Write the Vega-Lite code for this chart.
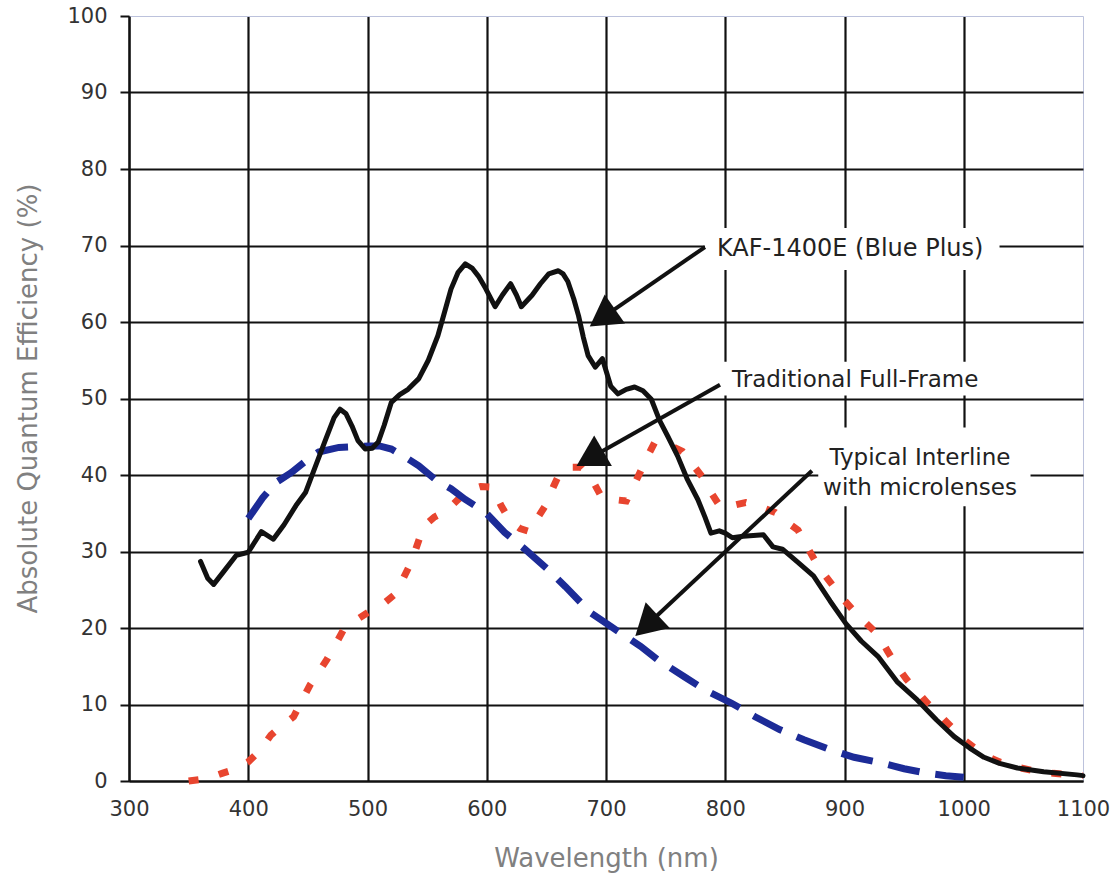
{
  "$schema": "https://vega.github.io/schema/vega-lite/v6.json",
  "width": 954,
  "height": 765,
  "autosize": {"type": "none"},
  "padding": {"left": 129, "top": 16, "right": 36, "bottom": 100},
  "background": "white",
  "config": {
    "view": {"stroke": null},
    "font": "DejaVu Sans",
    "axis": {
      "labelFont": "DejaVu Sans",
      "titleFont": "DejaVu Sans",
      "labelFontSize": 21,
      "labelColor": "#333333",
      "titleColor": "#808080",
      "titleFontSize": 26,
      "titleFontWeight": "normal",
      "domainColor": "#111111",
      "domainWidth": 2,
      "gridOpacity": 1
    }
  },
  "datasets": {
    "curves": [
      {"series": "KAF", "wl": 360, "qe": 28.7}, {"series": "KAF", "wl": 366, "qe": 26.5}, {"series": "KAF", "wl": 371, "qe": 25.7},
      {"series": "KAF", "wl": 380, "qe": 27.5}, {"series": "KAF", "wl": 390, "qe": 29.5}, {"series": "KAF", "wl": 400, "qe": 29.9},
      {"series": "KAF", "wl": 411, "qe": 32.6}, {"series": "KAF", "wl": 421, "qe": 31.6}, {"series": "KAF", "wl": 430, "qe": 33.5},
      {"series": "KAF", "wl": 440, "qe": 36}, {"series": "KAF", "wl": 448, "qe": 37.7}, {"series": "KAF", "wl": 456, "qe": 41},
      {"series": "KAF", "wl": 465, "qe": 44.7}, {"series": "KAF", "wl": 472, "qe": 47.5}, {"series": "KAF", "wl": 477, "qe": 48.6},
      {"series": "KAF", "wl": 482, "qe": 48}, {"series": "KAF", "wl": 487, "qe": 46.4}, {"series": "KAF", "wl": 492, "qe": 44.5},
      {"series": "KAF", "wl": 498, "qe": 43.4}, {"series": "KAF", "wl": 504, "qe": 43.5}, {"series": "KAF", "wl": 509, "qe": 44.3},
      {"series": "KAF", "wl": 514, "qe": 46.5}, {"series": "KAF", "wl": 520, "qe": 49.5}, {"series": "KAF", "wl": 527, "qe": 50.5},
      {"series": "KAF", "wl": 534, "qe": 51.2}, {"series": "KAF", "wl": 543, "qe": 52.6}, {"series": "KAF", "wl": 551, "qe": 55},
      {"series": "KAF", "wl": 559, "qe": 58.2}, {"series": "KAF", "wl": 565, "qe": 61.5}, {"series": "KAF", "wl": 570, "qe": 64.3},
      {"series": "KAF", "wl": 576, "qe": 66.5}, {"series": "KAF", "wl": 582, "qe": 67.6}, {"series": "KAF", "wl": 588, "qe": 67},
      {"series": "KAF", "wl": 593, "qe": 66}, {"series": "KAF", "wl": 599, "qe": 64.4}, {"series": "KAF", "wl": 607, "qe": 62},
      {"series": "KAF", "wl": 613, "qe": 63.5}, {"series": "KAF", "wl": 620, "qe": 65}, {"series": "KAF", "wl": 625, "qe": 63.5},
      {"series": "KAF", "wl": 629, "qe": 62}, {"series": "KAF", "wl": 638, "qe": 63.5}, {"series": "KAF", "wl": 645, "qe": 65},
      {"series": "KAF", "wl": 652, "qe": 66.3}, {"series": "KAF", "wl": 660, "qe": 66.7}, {"series": "KAF", "wl": 664, "qe": 66.3},
      {"series": "KAF", "wl": 668, "qe": 65.3}, {"series": "KAF", "wl": 673, "qe": 63}, {"series": "KAF", "wl": 677, "qe": 60.8},
      {"series": "KAF", "wl": 681, "qe": 58}, {"series": "KAF", "wl": 685, "qe": 55.6}, {"series": "KAF", "wl": 691, "qe": 54.1},
      {"series": "KAF", "wl": 697, "qe": 55.2}, {"series": "KAF", "wl": 704, "qe": 51.6}, {"series": "KAF", "wl": 710, "qe": 50.6},
      {"series": "KAF", "wl": 717, "qe": 51.2}, {"series": "KAF", "wl": 724, "qe": 51.5}, {"series": "KAF", "wl": 731, "qe": 51},
      {"series": "KAF", "wl": 738, "qe": 49.9}, {"series": "KAF", "wl": 745, "qe": 47.1}, {"series": "KAF", "wl": 752, "qe": 45},
      {"series": "KAF", "wl": 760, "qe": 42.5}, {"series": "KAF", "wl": 768, "qe": 39.5}, {"series": "KAF", "wl": 777, "qe": 36.8},
      {"series": "KAF", "wl": 783, "qe": 34.5}, {"series": "KAF", "wl": 788, "qe": 32.4}, {"series": "KAF", "wl": 795, "qe": 32.7},
      {"series": "KAF", "wl": 800, "qe": 32.4}, {"series": "KAF", "wl": 806, "qe": 31.8}, {"series": "KAF", "wl": 815, "qe": 32},
      {"series": "KAF", "wl": 832, "qe": 32.2}, {"series": "KAF", "wl": 840, "qe": 30.6}, {"series": "KAF", "wl": 848, "qe": 30.3},
      {"series": "KAF", "wl": 860, "qe": 28.7}, {"series": "KAF", "wl": 874, "qe": 26.8}, {"series": "KAF", "wl": 888, "qe": 23.5},
      {"series": "KAF", "wl": 901, "qe": 20.6}, {"series": "KAF", "wl": 914, "qe": 18.3}, {"series": "KAF", "wl": 928, "qe": 16.3},
      {"series": "KAF", "wl": 944, "qe": 13}, {"series": "KAF", "wl": 961, "qe": 10.6}, {"series": "KAF", "wl": 977, "qe": 8},
      {"series": "KAF", "wl": 992, "qe": 5.8}, {"series": "KAF", "wl": 1005, "qe": 4.3}, {"series": "KAF", "wl": 1017, "qe": 3.1},
      {"series": "KAF", "wl": 1030, "qe": 2.3}, {"series": "KAF", "wl": 1045, "qe": 1.7}, {"series": "KAF", "wl": 1067, "qe": 1.2},
      {"series": "KAF", "wl": 1095, "qe": 0.8}, {"series": "KAF", "wl": 1100, "qe": 0.7},

      {"series": "Interline", "wl": 400, "qe": 34.3}, {"series": "Interline", "wl": 412, "qe": 37}, {"series": "Interline", "wl": 423, "qe": 39},
      {"series": "Interline", "wl": 436, "qe": 40.3}, {"series": "Interline", "wl": 448, "qe": 41.8}, {"series": "Interline", "wl": 459, "qe": 43},
      {"series": "Interline", "wl": 476, "qe": 43.6}, {"series": "Interline", "wl": 490, "qe": 43.7}, {"series": "Interline", "wl": 501, "qe": 43.8},
      {"series": "Interline", "wl": 510, "qe": 43.8}, {"series": "Interline", "wl": 520, "qe": 43.4}, {"series": "Interline", "wl": 532, "qe": 42.3},
      {"series": "Interline", "wl": 543, "qe": 41.2}, {"series": "Interline", "wl": 557, "qe": 39.4}, {"series": "Interline", "wl": 570, "qe": 38.2},
      {"series": "Interline", "wl": 582, "qe": 36.8}, {"series": "Interline", "wl": 599, "qe": 35.1}, {"series": "Interline", "wl": 615, "qe": 32.5},
      {"series": "Interline", "wl": 632, "qe": 30.3}, {"series": "Interline", "wl": 651, "qe": 27.7}, {"series": "Interline", "wl": 666, "qe": 25.4},
      {"series": "Interline", "wl": 687, "qe": 22}, {"series": "Interline", "wl": 704, "qe": 20.2}, {"series": "Interline", "wl": 729, "qe": 17.6},
      {"series": "Interline", "wl": 743, "qe": 15.9}, {"series": "Interline", "wl": 766, "qe": 13.6}, {"series": "Interline", "wl": 783, "qe": 11.9},
      {"series": "Interline", "wl": 805, "qe": 10.2}, {"series": "Interline", "wl": 825, "qe": 8.4}, {"series": "Interline", "wl": 846, "qe": 6.7},
      {"series": "Interline", "wl": 866, "qe": 5.4}, {"series": "Interline", "wl": 888, "qe": 4.1}, {"series": "Interline", "wl": 908, "qe": 3.1},
      {"series": "Interline", "wl": 930, "qe": 2.4}, {"series": "Interline", "wl": 950, "qe": 1.6}, {"series": "Interline", "wl": 970, "qe": 1.0},
      {"series": "Interline", "wl": 985, "qe": 0.7}, {"series": "Interline", "wl": 1000, "qe": 0.5},

      {"series": "FullFrame", "wl": 350, "qe": 0}, {"series": "FullFrame", "wl": 365, "qe": 0.3}, {"series": "FullFrame", "wl": 378, "qe": 1},
      {"series": "FullFrame", "wl": 390, "qe": 1.6}, {"series": "FullFrame", "wl": 400, "qe": 2.5}, {"series": "FullFrame", "wl": 410, "qe": 4},
      {"series": "FullFrame", "wl": 419, "qe": 6}, {"series": "FullFrame", "wl": 428, "qe": 7.2}, {"series": "FullFrame", "wl": 438, "qe": 8.4},
      {"series": "FullFrame", "wl": 445, "qe": 10.5}, {"series": "FullFrame", "wl": 452, "qe": 12.6}, {"series": "FullFrame", "wl": 459, "qe": 14.2},
      {"series": "FullFrame", "wl": 466, "qe": 15.9}, {"series": "FullFrame", "wl": 473, "qe": 17.8}, {"series": "FullFrame", "wl": 480, "qe": 19.8},
      {"series": "FullFrame", "wl": 490, "qe": 21}, {"series": "FullFrame", "wl": 501, "qe": 22.1}, {"series": "FullFrame", "wl": 512, "qe": 23},
      {"series": "FullFrame", "wl": 523, "qe": 24.4}, {"series": "FullFrame", "wl": 530, "qe": 26.5}, {"series": "FullFrame", "wl": 537, "qe": 28.7},
      {"series": "FullFrame", "wl": 542, "qe": 31}, {"series": "FullFrame", "wl": 547, "qe": 33.3}, {"series": "FullFrame", "wl": 556, "qe": 34.5},
      {"series": "FullFrame", "wl": 566, "qe": 35.3}, {"series": "FullFrame", "wl": 576, "qe": 36.8}, {"series": "FullFrame", "wl": 586, "qe": 38.1},
      {"series": "FullFrame", "wl": 595, "qe": 38.5}, {"series": "FullFrame", "wl": 605, "qe": 38.4}, {"series": "FullFrame", "wl": 612, "qe": 36},
      {"series": "FullFrame", "wl": 620, "qe": 33.9}, {"series": "FullFrame", "wl": 628, "qe": 33}, {"series": "FullFrame", "wl": 636, "qe": 32.6},
      {"series": "FullFrame", "wl": 643, "qe": 34.5}, {"series": "FullFrame", "wl": 650, "qe": 36.2}, {"series": "FullFrame", "wl": 656, "qe": 38.5},
      {"series": "FullFrame", "wl": 662, "qe": 40.5}, {"series": "FullFrame", "wl": 670, "qe": 41}, {"series": "FullFrame", "wl": 679, "qe": 41},
      {"series": "FullFrame", "wl": 688, "qe": 39.5}, {"series": "FullFrame", "wl": 696, "qe": 37.2}, {"series": "FullFrame", "wl": 706, "qe": 36.8},
      {"series": "FullFrame", "wl": 717, "qe": 36.6}, {"series": "FullFrame", "wl": 723, "qe": 38.5}, {"series": "FullFrame", "wl": 729, "qe": 40.5},
      {"series": "FullFrame", "wl": 735, "qe": 42.5}, {"series": "FullFrame", "wl": 741, "qe": 44.3}, {"series": "FullFrame", "wl": 752, "qe": 44},
      {"series": "FullFrame", "wl": 764, "qe": 43.1}, {"series": "FullFrame", "wl": 772, "qe": 41.5}, {"series": "FullFrame", "wl": 781, "qe": 39.7},
      {"series": "FullFrame", "wl": 789, "qe": 37.5}, {"series": "FullFrame", "wl": 796, "qe": 35.8}, {"series": "FullFrame", "wl": 806, "qe": 36},
      {"series": "FullFrame", "wl": 817, "qe": 36.4}, {"series": "FullFrame", "wl": 830, "qe": 35.8}, {"series": "FullFrame", "wl": 842, "qe": 35.1},
      {"series": "FullFrame", "wl": 852, "qe": 33.8}, {"series": "FullFrame", "wl": 861, "qe": 32.8}, {"series": "FullFrame", "wl": 868, "qe": 30.8},
      {"series": "FullFrame", "wl": 876, "qe": 28.6}, {"series": "FullFrame", "wl": 884, "qe": 26.8}, {"series": "FullFrame", "wl": 892, "qe": 25.2},
      {"series": "FullFrame", "wl": 900, "qe": 23.6}, {"series": "FullFrame", "wl": 909, "qe": 22}, {"series": "FullFrame", "wl": 919, "qe": 20.5},
      {"series": "FullFrame", "wl": 929, "qe": 19}, {"series": "FullFrame", "wl": 936, "qe": 17}, {"series": "FullFrame", "wl": 944, "qe": 15},
      {"series": "FullFrame", "wl": 952, "qe": 13.3}, {"series": "FullFrame", "wl": 961, "qe": 11.7}, {"series": "FullFrame", "wl": 970, "qe": 10.1},
      {"series": "FullFrame", "wl": 980, "qe": 8.6}, {"series": "FullFrame", "wl": 990, "qe": 7}, {"series": "FullFrame", "wl": 1000, "qe": 5.4},
      {"series": "FullFrame", "wl": 1010, "qe": 4.2}, {"series": "FullFrame", "wl": 1020, "qe": 3.2}, {"series": "FullFrame", "wl": 1030, "qe": 2.5},
      {"series": "FullFrame", "wl": 1045, "qe": 1.8}, {"series": "FullFrame", "wl": 1060, "qe": 1.3}, {"series": "FullFrame", "wl": 1075, "qe": 1},
      {"series": "FullFrame", "wl": 1090, "qe": 0.8}, {"series": "FullFrame", "wl": 1100, "qe": 0.7}
    ],
    "boxes": [
      {"wl": 783, "wl2": 1030, "qe": 72.3, "qe2": 66.8},
      {"wl": 797, "wl2": 1024, "qe": 54.8, "qe2": 50.4},
      {"wl": 878, "wl2": 1056, "qe": 46.2, "qe2": 35.9}
    ],
    "arrows": [
      {"id": "KAF", "wl": 783.0, "qe": 69.8, "wl2": 700.4, "qe2": 60.94},
      {"id": "FullFrame", "wl": 795.6, "qe": 51.8, "wl2": 690.1, "qe2": 42.51},
      {"id": "Interline", "wl": 872.7, "qe": 40.56, "wl2": 737.1, "qe2": 20.78}
    ],
    "labels": [
      {"id": "KAF", "wl": 793.1, "qe": 68.65, "text": "KAF-1400E (Blue Plus)"},
      {"id": "FullFrame", "wl": 805.7, "qe": 51.55, "text": "Traditional Full-Frame"},
      {"id": "Interline", "wl": 963.3, "qe": 41.35, "text": "Typical Interline"},
      {"id": "Interline", "wl": 963.3, "qe": 37.4, "text": "with microlenses"}
    ]
  },
  "layer": [
    {
      "data": {"name": "boxes"},
      "mark": {"type": "rect", "fill": "white", "stroke": null},
      "encoding": {
        "x": {"field": "wl", "type": "quantitative", "scale": {"domain": [300, 1100], "nice": false, "zero": false},
          "axis": {"values": [300, 400, 500, 600, 700, 800, 900, 1000, 1100], "format": "d", "title": "Wavelength (nm)", "grid": true,
            "gridColor": {"condition": {"test": "datum.value == 1100", "value": "#bcc2dc"}, "value": "#111111"},
            "gridWidth": {"condition": {"test": "datum.value == 1100", "value": 1}, "value": 2.2},
            "ticks": false, "tickSize": 0, "labelPadding": 17, "labelFlush": false,
            "titleX": 477, "titleY": 77, "titleBaseline": "middle", "titleAlign": "center"}},
        "x2": {"field": "wl2"},
        "y": {"field": "qe", "type": "quantitative", "scale": {"domain": [0, 100], "nice": false},
          "axis": {"values": [0, 10, 20, 30, 40, 50, 60, 70, 80, 90, 100], "title": "Absolute Quantum Efficiency (%)", "grid": true,
            "gridColor": {"condition": {"test": "datum.value == 100", "value": "#bcc2dc"}, "value": "#111111"},
            "gridWidth": {"condition": {"test": "datum.value == 100", "value": 1}, "value": 2.2},
            "ticks": true, "tickSize": 9, "tickColor": "#111111", "tickWidth": 2, "labelPadding": 13, "labelFlush": false,
            "titleX": -101, "titleY": 382, "titleAngle": -90, "titleBaseline": "middle", "titleAlign": "center"}},
        "y2": {"field": "qe2"}
      }
    },
    {
      "data": {"name": "curves"},
      "transform": [{"filter": "datum.series == 'FullFrame'"}],
      "mark": {"type": "line", "color": "#e8452f", "strokeWidth": 7, "strokeDash": [10, 21], "strokeCap": "butt"},
      "encoding": {
        "x": {"field": "wl", "type": "quantitative"},
        "y": {"field": "qe", "type": "quantitative"}
      }
    },
    {
      "data": {"name": "curves"},
      "transform": [{"filter": "datum.series == 'Interline'"}],
      "mark": {"type": "line", "color": "#1c2b97", "strokeWidth": 7, "strokeDash": [32, 16], "strokeCap": "butt"},
      "encoding": {
        "x": {"field": "wl", "type": "quantitative"},
        "y": {"field": "qe", "type": "quantitative"}
      }
    },
    {
      "data": {"name": "curves"},
      "transform": [{"filter": "datum.series == 'KAF'"}],
      "mark": {"type": "line", "color": "#111111", "strokeWidth": 5, "strokeJoin": "round", "strokeCap": "round"},
      "encoding": {
        "x": {"field": "wl", "type": "quantitative"},
        "y": {"field": "qe", "type": "quantitative"}
      }
    },
    {
      "data": {"name": "arrows"},
      "mark": {"type": "rule", "color": "#111111", "strokeWidth": 4},
      "encoding": {
        "x": {"field": "wl", "type": "quantitative"},
        "y": {"field": "qe", "type": "quantitative"},
        "x2": {"field": "wl2"},
        "y2": {"field": "qe2"}
      }
    },
    {
      "data": {"name": "arrows"},
      "transform": [{"filter": "datum.id == 'KAF'"}],
      "mark": {"type": "point", "shape": "triangle", "filled": true, "color": "#111111", "opacity": 1, "size": 1250, "angle": 235},
      "encoding": {
        "x": {"field": "wl2", "type": "quantitative"},
        "y": {"field": "qe2", "type": "quantitative"}
      }
    },
    {
      "data": {"name": "arrows"},
      "transform": [{"filter": "datum.id == 'FullFrame'"}],
      "mark": {"type": "point", "shape": "triangle", "filled": true, "color": "#111111", "opacity": 1, "size": 1250, "angle": 240},
      "encoding": {
        "x": {"field": "wl2", "type": "quantitative"},
        "y": {"field": "qe2", "type": "quantitative"}
      }
    },
    {
      "data": {"name": "arrows"},
      "transform": [{"filter": "datum.id == 'Interline'"}],
      "mark": {"type": "point", "shape": "triangle", "filled": true, "color": "#111111", "opacity": 1, "size": 1250, "angle": 227},
      "encoding": {
        "x": {"field": "wl2", "type": "quantitative"},
        "y": {"field": "qe2", "type": "quantitative"}
      }
    },
    {
      "data": {"name": "labels"},
      "transform": [{"filter": "datum.id == 'KAF'"}],
      "mark": {"type": "text", "align": "left", "baseline": "alphabetic", "fontSize": 24, "font": "DejaVu Sans", "color": "#222222"},
      "encoding": {
        "x": {"field": "wl", "type": "quantitative"},
        "y": {"field": "qe", "type": "quantitative"},
        "text": {"field": "text"}
      }
    },
    {
      "data": {"name": "labels"},
      "transform": [{"filter": "datum.id == 'FullFrame'"}],
      "mark": {"type": "text", "align": "left", "baseline": "alphabetic", "fontSize": 23, "font": "DejaVu Sans", "color": "#222222"},
      "encoding": {
        "x": {"field": "wl", "type": "quantitative"},
        "y": {"field": "qe", "type": "quantitative"},
        "text": {"field": "text"}
      }
    },
    {
      "data": {"name": "labels"},
      "transform": [{"filter": "datum.id == 'Interline'"}],
      "mark": {"type": "text", "align": "center", "baseline": "alphabetic", "fontSize": 23, "font": "DejaVu Sans", "color": "#222222"},
      "encoding": {
        "x": {"field": "wl", "type": "quantitative"},
        "y": {"field": "qe", "type": "quantitative"},
        "text": {"field": "text"}
      }
    }
  ]
}
